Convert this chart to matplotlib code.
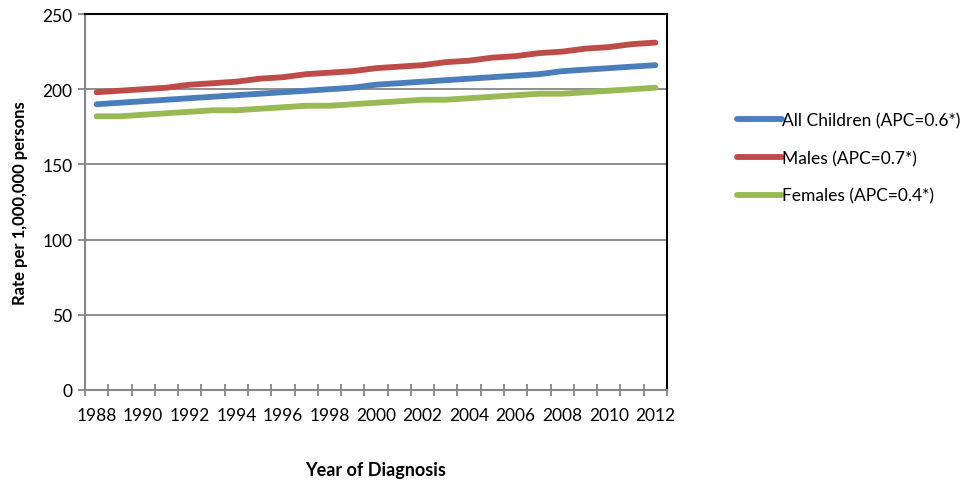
import matplotlib.pyplot as plt
import numpy as np

years = list(range(1988, 2013))
all_children = [190, 191, 192, 193, 194, 195, 196, 197, 198, 199, 200, 201, 203,
                204, 205, 206, 207, 208, 209, 210, 212, 213, 214, 215, 216]
males = [198, 199, 200, 201, 203, 204, 205, 207, 208, 210, 211, 212, 214,
         215, 216, 218, 219, 221, 222, 224, 225, 227, 228, 230, 231]
females = [182, 182, 183, 184, 185, 186, 186, 187, 188, 189, 189, 190, 191,
           192, 193, 193, 194, 195, 196, 197, 197, 198, 199, 200, 201]
labels = ["All Children (APC=0.6*)", "Males (APC=0.7*)", "Females (APC=0.4*)"]
colors = ["#4a7ebb", "#be4b48", "#98b954"]

plt.rcParams["font.family"] = ["Lato", "DejaVu Sans"]

fig = plt.figure(figsize=(9.66, 4.85), dpi=100)
ax = fig.add_axes([0.088, 0.194, 0.6025, 0.775])

x = np.arange(len(years))
for series, label, color in zip([all_children, males, females], labels, colors):
    ax.plot(x, series, color=color, linewidth=4.2, solid_capstyle="round",
            solid_joinstyle="round", label=label)

ax.set_xlim(-0.5, len(years) - 0.5)
ax.set_ylim(0, 250)
ax.set_yticks(range(0, 251, 50))
ax.yaxis.grid(True, color="#868686", linewidth=1.3)
ax.set_axisbelow(True)

# category axis: boundary ticks, labels on every other year
ax.set_xticks(x[::2])
ax.set_xticklabels([str(y) for y in years[::2]])
ax.set_xticks(np.arange(-0.5, len(years)), minor=True)
ax.tick_params(axis="x", which="major", length=0, pad=12, labelsize=12.5)
ax.tick_params(axis="x", which="minor", direction="inout", length=8,
               color="#868686", width=1.3)
ax.tick_params(axis="y", length=5, color="#868686", width=1.3, labelsize=12.5, pad=4)

for side in ["left", "bottom"]:
    ax.spines[side].set_color("#868686")
    ax.spines[side].set_linewidth(1.5)
for side in ["top", "right"]:
    ax.spines[side].set_color("black")
    ax.spines[side].set_linewidth(1.5)

ax.set_ylabel("Rate per 1,000,000 persons", fontsize=12, fontweight="bold", labelpad=10)
ax.set_xlabel("Year of Diagnosis", fontsize=13, fontweight="bold", labelpad=28)

ax.legend(loc="center left", bbox_to_anchor=(1.105, 0.617), frameon=False,
          borderpad=0, fontsize=12.5, handlelength=2.6, handletextpad=0.0,
          labelspacing=1.25)

fig.savefig("out.png", dpi=100)
